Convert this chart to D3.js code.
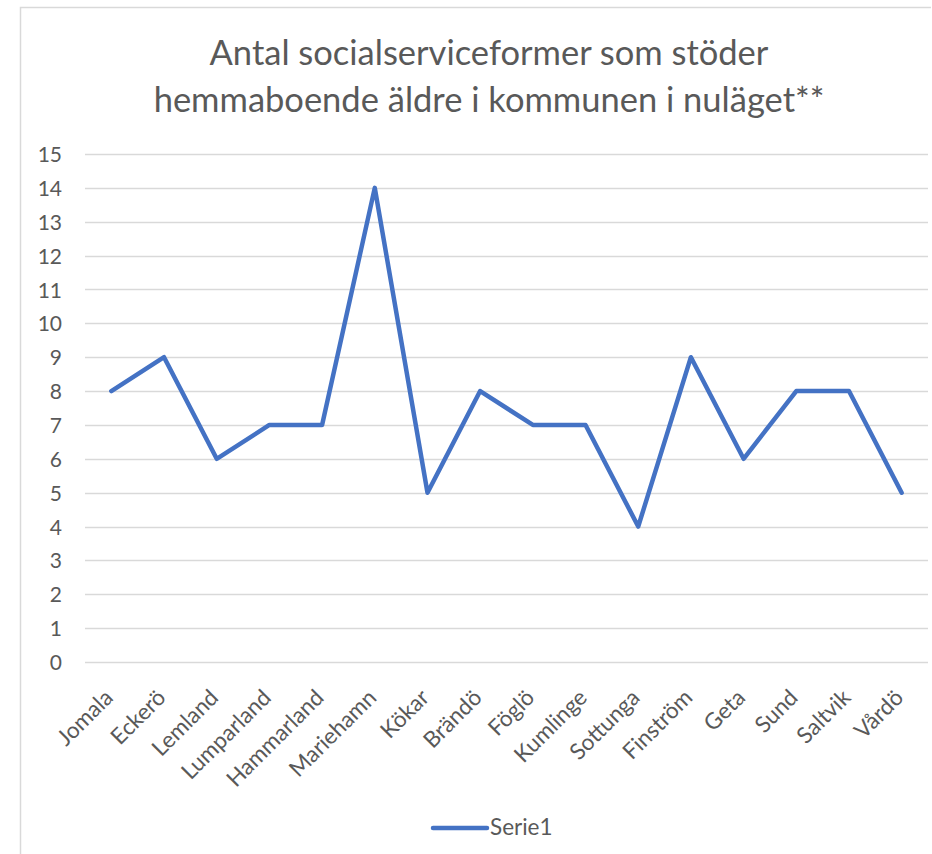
<!DOCTYPE html>
<html><head><meta charset="utf-8">
<script src="https://d3js.org/d3.v7.min.js"></script>
<style>body{margin:0;background:#fff;} text{font-family:Lato,"Open Sans",sans-serif;fill:#595959;}</style>
</head><body>
<script>
const categories = ["Jomala","Eckerö","Lemland","Lumparland","Hammarland","Mariehamn","Kökar","Brändö","Föglö","Kumlinge","Sottunga","Finström","Geta","Sund","Saltvik","Vårdö"];
const values = [8,9,6,7,7,14,5,8,7,7,4,9,6,8,8,5];
const yTicks = [0,1,2,3,4,5,6,7,8,9,10,11,12,13,14,15];
const titleLines = ["Antal socialserviceformer som stöder","hemmaboende äldre i kommunen i nuläget**"];
const seriesName = "Serie1";

const W = 932, H = 854;
const svg = d3.select("body").append("svg").attr("width", W).attr("height", H);

// chart border
svg.append("path").attr("d", `M20.5,${H} V7.5 H931`).attr("fill","none").attr("stroke","#d9d9d9").attr("stroke-width",1.5);

const x = d3.scaleBand().domain(categories).range([85, 928]);
const y = d3.scaleLinear().domain([0, 15]).range([662, 154]);

// title
svg.append("g").selectAll("text").data(titleLines).join("text")
  .attr("x", 489).attr("y", (d,i) => 65 + i*47)
  .attr("text-anchor","middle").style("font-size","34.5px").text(d => d);

// gridlines
svg.append("g").selectAll("line").data(yTicks).join("line")
  .attr("x1", 85).attr("x2", 928)
  .attr("y1", d => Math.round(y(d))+0.5).attr("y2", d => Math.round(y(d))+0.5)
  .attr("stroke","#d9d9d9").attr("stroke-width",1.3);

// y axis labels
const yAxis = d3.axisLeft(y).tickValues(yTicks).tickSize(0).tickPadding(0);
const yg = svg.append("g").attr("transform","translate(62,0)").call(yAxis);
yg.select(".domain").remove();
yg.selectAll("text").style("font-size","21px").attr("fill","#595959").attr("dy","0.36em");

// x axis labels
const xAxis = d3.axisBottom(x).tickSize(0).tickPadding(0);
const xg = svg.append("g").attr("transform","translate(0,662)").call(xAxis);
xg.select(".domain").remove();
xg.selectAll("text").style("font-size","22.5px").attr("fill","#595959")
  .attr("text-anchor","end").attr("dy",null)
  .attr("transform","translate(3,37) rotate(-45)");

// line
const line = d3.line().x((d,i) => x(categories[i]) + x.bandwidth()/2).y(d => y(d));
svg.append("path").datum(values).attr("d", line).attr("fill","none")
  .attr("stroke","#4472C4").attr("stroke-width",4.5).attr("stroke-linejoin","round").attr("stroke-linecap","round");

// legend
svg.append("line").attr("x1",433).attr("x2",487).attr("y1",828).attr("y2",828)
  .attr("stroke","#4472C4").attr("stroke-width",4.5).attr("stroke-linecap","round");
svg.append("text").attr("x",490).attr("y",835).style("font-size","22.5px").text(seriesName);
</script>
</body></html>
